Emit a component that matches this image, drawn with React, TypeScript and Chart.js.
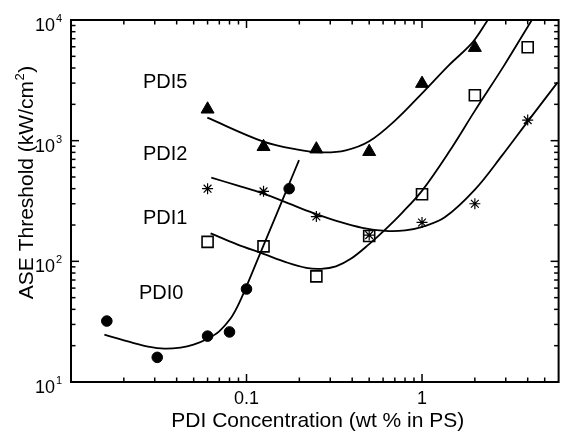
import React, { useEffect, useRef } from "react";
import { Chart, registerables } from "chart.js";

Chart.register(...registerables);

// ---- measured markers ----
const pdi0X = [0.016, 0.031, 0.06, 0.08, 0.1, 0.175];
const pdi0Y = [32, 16, 24, 26, 59, 400];

const pdi1X = [0.06, 0.125, 0.25, 0.5, 1, 2, 4];
const pdi1Y = [400, 380, 235, 165, 210, 300, 1480];

const pdi2X = [0.06, 0.125, 0.25, 0.5, 1, 2, 4];
const pdi2Y = [145, 133, 75, 162, 360, 2380, 5950];

const pdi5X = [0.06, 0.125, 0.25, 0.5, 1, 2];
const pdi5Y = [1820, 890, 850, 810, 2970, 5900];

// ---- fitted curves ----
const fit0X = [0.0155, 0.0221, 0.0275, 0.0341, 0.0421, 0.0499, 0.0593, 0.0699, 0.0809, 0.0889, 0.0983, 0.119, 0.1446, 0.174, 0.1992];
const fit0Y = [24.7, 21.3, 19.65, 18.9, 19.3, 20.4, 22.6, 26.3, 33.4, 42.4, 58.6, 114.3, 225, 430, 690];

const fit1X = [0.063, 0.0883, 0.1248, 0.1734, 0.2388, 0.3318, 0.4571, 0.6186, 0.802, 1.004, 1.348, 2.007, 2.861, 4.046, 5.92];
const fit1Y = [494, 426, 364, 302, 252, 214.5, 189.5, 179, 180.6, 193, 231.5, 395, 755, 1473, 3041];

const fit2X = [0.0624, 0.0883, 0.1248, 0.1689, 0.219, 0.266, 0.3233, 0.3927, 0.498, 0.6186, 0.7744, 1.004, 1.42, 2.007, 2.938, 4.224];
const fit2Y = [170.6, 138.3, 115.4, 98.1, 88.3, 86.7, 90.9, 104.9, 138.3, 184.1, 254.7, 387.5, 800, 1782, 4206, 10000];

const fit5X = [0.0598, 0.1237, 0.1923, 0.2696, 0.368, 0.5, 0.704, 1, 1.42, 1.94, 2.37];
const fit5Y = [1551, 987, 847, 800, 831, 987, 1472, 2465, 4207, 6523, 10000];

// ---- axes ----
const xMin = 0.01;
const xMax = 6;
const yMin = 10;
const yMax = 10000;
const xTickValues = [0.1, 1];
const xTickLabels = ["0.1", "1"];
const yTickValues = [10, 100, 1000, 10000];
const yTickExponents = ["1", "2", "3", "4"];
const xTitle = "PDI Concentration (wt % in PS)";
const yTitleMain = "ASE Threshold (kW/cm";
const yTitleSup = "2";
const yTitleEnd = ")";
const seriesNames = ["PDI5", "PDI2", "PDI1", "PDI0"];

// label placement (pixels: left x, baseline y)
const namePos = [
  [143, 88],
  [143, 160],
  [143, 224],
  [139, 299],
];

const FONT = "'Liberation Sans', Arial, Helvetica, sans-serif";

const toXY = (xs: number[], ys: number[]) => xs.map((x, i) => ({ x, y: ys[i] }));

const framePlugin = {
  id: "frameAxes",
  afterDatasetsDraw(chart: any) {
    const { ctx, chartArea: a, scales } = chart;
    const xs = scales.x;
    const ys = scales.y;
    ctx.save();
    ctx.strokeStyle = "#000";
    ctx.fillStyle = "#000";
    ctx.lineWidth = 2;
    ctx.strokeRect(a.left, a.top, a.right - a.left, a.bottom - a.top);

    ctx.lineWidth = 1.5;
    const seg = (x1: number, y1: number, x2: number, y2: number) => {
      ctx.beginPath();
      ctx.moveTo(x1, y1);
      ctx.lineTo(x2, y2);
      ctx.stroke();
    };
    for (let d = -2; d <= 1; d++) {
      for (let m = 1; m <= 9; m++) {
        const v = m * Math.pow(10, d);
        if (v <= xMin * 1.0001 || v >= xMax * 0.9999) continue;
        const px = xs.getPixelForValue(v);
        const len = m === 1 ? 8 : 4.5;
        seg(px, a.bottom, px, a.bottom - len);
        seg(px, a.top, px, a.top + len);
      }
    }
    for (let d = 1; d <= 4; d++) {
      for (let m = 1; m <= 9; m++) {
        const v = m * Math.pow(10, d);
        if (v > yMax) continue;
        const py = ys.getPixelForValue(v);
        const len = m === 1 ? 8 : 4.5;
        seg(a.left, py, a.left + len, py);
        seg(a.right, py, a.right - len, py);
      }
    }

    ctx.font = `18px ${FONT}`;
    ctx.textAlign = "center";
    ctx.textBaseline = "alphabetic";
    xTickValues.forEach((v, i) => {
      ctx.fillText(xTickLabels[i], xs.getPixelForValue(v), 404);
    });

    yTickValues.forEach((v, i) => {
      const py = ys.getPixelForValue(v);
      ctx.textAlign = "left";
      ctx.font = `18px ${FONT}`;
      ctx.fillText("10", 35, py + 11);
      ctx.font = `11px ${FONT}`;
      ctx.fillText(yTickExponents[i], 56, py + 2);
    });

    ctx.font = `21px ${FONT}`;
    ctx.textAlign = "center";
    ctx.fillText(xTitle, (a.left + a.right) / 2 + 3, 427);

    ctx.save();
    ctx.translate(33, 183);
    ctx.rotate(-Math.PI / 2);
    ctx.textAlign = "left";
    ctx.font = `21px ${FONT}`;
    const w1 = ctx.measureText(yTitleMain).width;
    const w3 = ctx.measureText(yTitleEnd).width;
    ctx.font = `13px ${FONT}`;
    const w2 = ctx.measureText(yTitleSup).width;
    const start = -(w1 + w2 + w3) / 2;
    ctx.font = `21px ${FONT}`;
    ctx.fillText(yTitleMain, start, 0);
    ctx.font = `13px ${FONT}`;
    ctx.fillText(yTitleSup, start + w1 + 0.5, -9);
    ctx.font = `21px ${FONT}`;
    ctx.fillText(yTitleEnd, start + w1 + w2 + 1, 0);
    ctx.restore();

    ctx.font = `20px ${FONT}`;
    ctx.textAlign = "left";
    seriesNames.forEach((s, i) => {
      ctx.fillText(s, namePos[i][0], namePos[i][1]);
    });

    ctx.restore();
  },
};

export default function App() {
  const ref = useRef<HTMLCanvasElement>(null);

  useEffect(() => {
    if (!ref.current) return;
    const curve = (xs: number[], ys: number[]) => ({
      type: "line" as const,
      data: toXY(xs, ys),
      borderColor: "#000",
      borderWidth: 1.8,
      pointRadius: 0,
      fill: false,
      tension: 0.35,
      showLine: true,
    });
    const marks = (xs: number[], ys: number[], style: string, r: number, bg: string, bw: number) => ({
      type: "line" as const,
      data: toXY(xs, ys),
      showLine: false,
      pointStyle: style,
      pointRadius: r,
      pointBackgroundColor: bg,
      pointBorderColor: "#000",
      pointBorderWidth: bw,
      borderColor: "#000",
      backgroundColor: bg,
    });

    const chart = new Chart(ref.current, {
      type: "line",
      data: {
        datasets: [
          curve(fit0X, fit0Y),
          curve(fit1X, fit1Y),
          curve(fit2X, fit2Y),
          curve(fit5X, fit5Y),
          marks(pdi0X, pdi0Y, "circle", 5.3, "#000", 1),
          marks(pdi2X, pdi2Y, "rect", 7.8, "rgba(0,0,0,0)", 1.6),
          marks(pdi1X, pdi1Y, "star", 5.5, "#000", 1.2),
          marks(pdi5X, pdi5Y, "triangle", 7.5, "#000", 1),
        ] as any,
      },
      options: {
        responsive: false,
        animation: false,
        devicePixelRatio: 1,
        layout: { padding: { left: 71, top: 20, right: 4, bottom: 50 } },
        scales: {
          x: { type: "logarithmic", min: xMin, max: xMax, display: false },
          y: { type: "logarithmic", min: yMin, max: yMax, display: false },
        },
        plugins: {
          legend: { display: false },
          tooltip: { enabled: false },
        },
        events: [],
      },
      plugins: [framePlugin],
    });
    return () => chart.destroy();
  }, []);

  return (
    <div style={{ position: "absolute", left: 0, top: 0, width: 568, height: 432, background: "#fff" }}>
      <canvas ref={ref} width={568} height={432} style={{ width: 568, height: 432, display: "block" }} />
    </div>
  );
}
